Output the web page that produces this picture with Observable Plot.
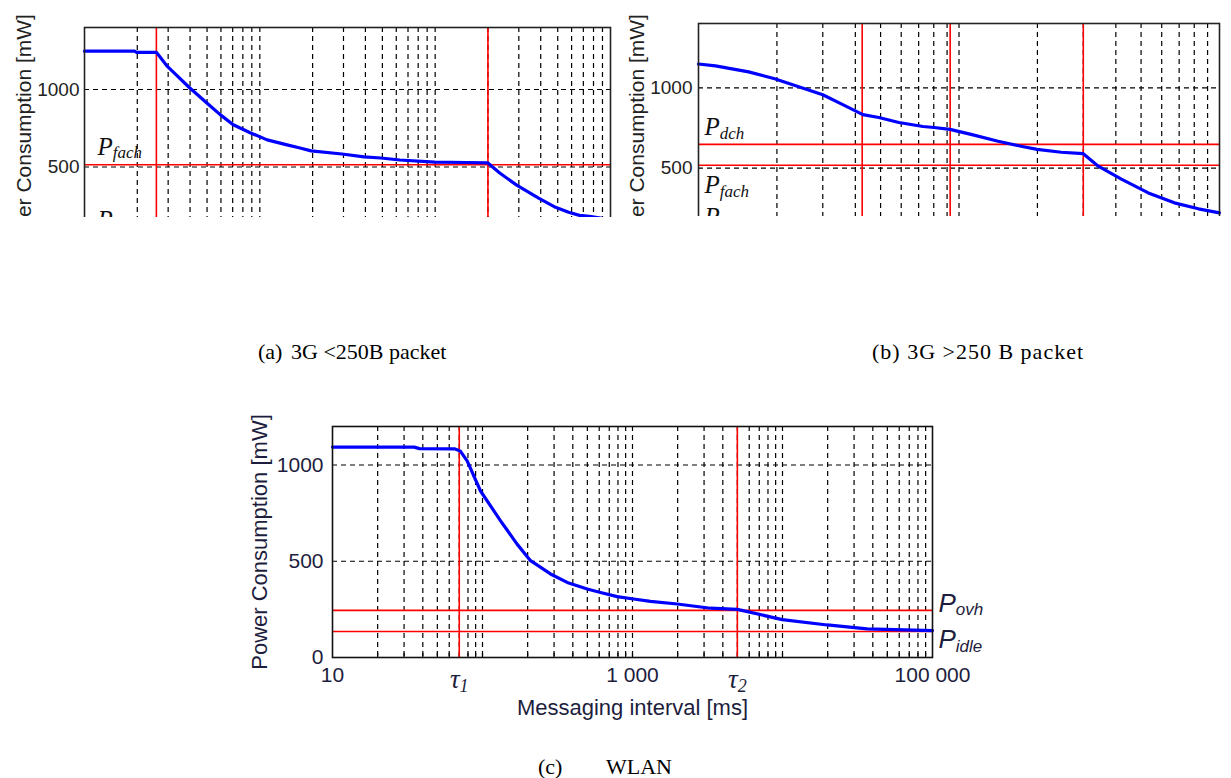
<!DOCTYPE html>
<html><head><meta charset="utf-8">
<script src="https://cdn.jsdelivr.net/npm/d3@7"></script>
<script src="https://cdn.jsdelivr.net/npm/@observablehq/plot@0.6"></script>
<style>
body{margin:0;background:#fff;}
#page{position:relative;width:1231px;height:778px;background:#fff;overflow:hidden;}
.panel{position:absolute;overflow:hidden;}
.cap{position:absolute;font-family:"Liberation Serif","Times New Roman",serif;font-size:22px;line-height:22px;color:#000;white-space:pre;}
</style></head><body>
<div id="page">
 <div id="pa" class="panel" style="left:0;top:0;width:615px;height:217px"></div>
 <div id="pb" class="panel" style="left:615px;top:0;width:616px;height:216px"></div>
 <div id="pc" class="panel" style="left:230px;top:390px;width:800px;height:345px"></div>
 <div class="cap" style="left:258px;top:341px">(a)</div>
 <div class="cap" style="left:291px;top:341px">3G &lt;250B packet</div>
 <div class="cap" style="left:872px;top:341px;letter-spacing:1px">(b) 3G &gt;250 B packet</div>
 <div class="cap" style="left:538px;top:756px">(c)</div>
 <div class="cap" style="left:606px;top:756px">WLAN</div>
</div>
<script>
// ---------- data ----------
// (a) 3G <250B packet
const aX = [100, 193, 198, 257, 297, 396, 495, 594, 705, 881, 1101, 1430, 1695, 1960, 2940, 3925, 4900, 6290, 9950, 15140, 20000, 23340, 29170, 38900, 48600, 57700, 66600, 75900, 100000];
const aY = [1247, 1247, 1240, 1240, 1149, 1013, 916, 838, 773, 721, 675, 643, 623, 604, 584, 565, 558, 545, 532, 529, 526, 461, 383, 299, 240, 208, 188, 182, 160];
const aTau = [257, 20000];
const aP = [515];
const aPLabels = ["P|fach", "P|idle"];

// (b) 3G >250 B packet
const bX = [1000, 1162, 1557, 1960, 2425, 2999, 3580, 4274, 4923, 5878, 7273, 8015, 9232, 11120, 14130, 17310, 19950, 24680, 30000, 34250, 42000, 53300, 67100, 83000, 100000];
const bY = [1148, 1136, 1099, 1056, 1006, 957, 895, 833, 815, 784, 759, 753, 741, 710, 667, 636, 617, 599, 590, 512, 432, 346, 284, 247, 222];
const bTau = [4250, 9250, 30000];
const bP = [648, 518];
const bPLabels = ["P|dch", "P|fach", "P|idle"];

// (c) WLAN
const cX = [10, 35, 38, 65, 71, 79, 97, 132, 170, 209, 284, 367, 499, 612, 791, 1016, 1318, 1986, 3311, 5000, 9950, 19860, 36650, 100000];
const cY = [1093, 1093, 1085, 1084, 1073, 1021, 865, 710, 589, 503, 434, 390, 356, 338, 316, 304, 292, 278, 256, 250, 197, 169, 149, 140];
const cTau = [70, 5000];
const cTauLabels = ["τ|1", "τ|2"];
const cP = [245, 135];
const cPLabels = ["P|ovh", "P|idle"];

const yTicks = [0, 500, 1000];
const cXTicks = [10, 1000, 100000];
const cXTickLabels = ["10", "1 000", "100 000"];
const yLabel = "Power Consumption [mW]";
const xLabel = "Messaging interval [ms]";

// ---------- helpers ----------
const sans = "'Liberation Sans', Arial, sans-serif";
const serif = "'Liberation Serif', 'Times New Roman', serif";
function logGrid(lo, hi) {
  const out = [];
  for (let e = Math.round(Math.log10(lo)); Math.pow(10, e) < hi; e++)
    for (let k = 1; k < 10; k++) { const v = k * Math.pow(10, e); if (v > lo && v < hi) out.push(v); }
  return out;
}
const dash = {stroke: "#000", strokeDasharray: "5,4", strokeWidth: 1.2};
const red = {stroke: "#ff0000", strokeWidth: 1.6};
const blue = {stroke: "#0000ff", strokeWidth: 3.2};
function subscripts(svg) {
  d3.select(svg).selectAll("text").each(function() {
    const s = this.textContent;
    if (!s.includes("|")) return;
    const [a, b] = s.split("|");
    const g = this.parentNode;
    const fs = +(g.getAttribute("font-size") || this.getAttribute("font-size") || 24);
    const t = d3.select(this);
    t.text("");
    t.append("tspan").text(a);
    t.append("tspan").attr("font-size", Math.round(fs * 0.66)).attr("dy", "0.22em").text(b);
  });
}

// ---------- (a) ----------
const plotA = Plot.plot({
  width: 615, height: 260,
  marginLeft: 84, marginRight: 5, marginTop: 27, marginBottom: 16,
  x: {type: "log", domain: [100, 100000], axis: null},
  y: {domain: [0, 1400], axis: null},
  style: {fontFamily: sans, fontSize: "19px", color: "#222", background: "white"},
  marks: [
    Plot.ruleX(logGrid(100, 100000), dash),
    Plot.ruleY([500, 1000], dash),
    Plot.ruleY(aP, red),
    Plot.ruleX(aTau, red),
    Plot.line(aX.map((x, i) => ({x, y: aY[i]})), {x: "x", y: "y", ...blue}),
    Plot.frame({stroke: "#222", strokeWidth: 1.6}),
    Plot.axisY({ticks: [500, 1000], tickSize: 0, tickPadding: 5, label: null, tickFormat: d => String(d)}),
    Plot.text([yLabel], {text: d => d, frameAnchor: "left", textAnchor: "middle", rotate: -90, dx: -60, fontSize: 21, lineAnchor: "middle"}),
    Plot.text([aPLabels[0]], {text: d => d, y: aP[0], frameAnchor: "left", dx: 13, dy: -18, textAnchor: "start", lineAnchor: "middle", fontFamily: serif, fontStyle: "italic", fontSize: 25, fill: "#111"}),
    Plot.text([aPLabels[1]], {text: d => d, y: aP[0], frameAnchor: "left", dx: 13, dy: 55, textAnchor: "start", lineAnchor: "middle", fontFamily: serif, fontStyle: "italic", fontSize: 25, fill: "#111"})
  ]
});
subscripts(plotA);
document.getElementById("pa").append(plotA);

// ---------- (b) ----------
const plotB = Plot.plot({
  width: 616, height: 270,
  marginLeft: 83, marginRight: 12, marginTop: 23, marginBottom: 22,
  x: {type: "log", domain: [1000, 100000], axis: null},
  y: {domain: [0, 1400], axis: null},
  style: {fontFamily: sans, fontSize: "19px", color: "#222", background: "white"},
  marks: [
    Plot.ruleX(logGrid(1000, 100000), dash),
    Plot.ruleY([500, 1000], dash),
    Plot.ruleY(bP, red),
    Plot.ruleX(bTau, red),
    Plot.line(bX.map((x, i) => ({x, y: bY[i]})), {x: "x", y: "y", ...blue}),
    Plot.frame({stroke: "#222", strokeWidth: 1.6}),
    Plot.axisY({ticks: [500, 1000], tickSize: 0, tickPadding: 6, label: null, tickFormat: d => String(d)}),
    Plot.text([yLabel], {text: d => d, frameAnchor: "left", textAnchor: "middle", rotate: -90, dx: -61, fontSize: 21, lineAnchor: "middle"}),
    Plot.text([bPLabels[0]], {text: d => d, y: bP[0], frameAnchor: "left", dx: 6, dy: -17, textAnchor: "start", lineAnchor: "middle", fontFamily: serif, fontStyle: "italic", fontSize: 25, fill: "#111"}),
    Plot.text([bPLabels[1]], {text: d => d, y: bP[1], frameAnchor: "left", dx: 6, dy: 20, textAnchor: "start", lineAnchor: "middle", fontFamily: serif, fontStyle: "italic", fontSize: 25, fill: "#111"}),
    Plot.text([bPLabels[2]], {text: d => d, y: bP[1], frameAnchor: "left", dx: 6, dy: 52, textAnchor: "start", lineAnchor: "middle", fontFamily: serif, fontStyle: "italic", fontSize: 25, fill: "#111"})
  ]
});
subscripts(plotB);
document.getElementById("pb").append(plotB);

// ---------- (c) ----------
const plotC = Plot.plot({
  width: 800, height: 345,
  marginLeft: 102, marginRight: 98, marginTop: 36, marginBottom: 78,
  x: {type: "log", domain: [10, 100000], axis: null},
  y: {domain: [0, 1200], axis: null},
  style: {fontFamily: sans, fontSize: "21px", color: "#1d1d3d", background: "white"},
  marks: [
    Plot.ruleX(logGrid(10, 100000), dash),
    Plot.ruleY([500, 1000], dash),
    Plot.ruleX(logGrid(10, 100000), {y1: 0, y2: 22, stroke: "#000", strokeWidth: 1.2}),
    Plot.ruleY(cP, red),
    Plot.ruleX(cTau, red),
    Plot.line(cX.map((x, i) => ({x, y: cY[i]})), {x: "x", y: "y", ...blue}),
    Plot.frame({stroke: "#111", strokeWidth: 1.6}),
    Plot.axisY({ticks: yTicks, tickSize: 0, tickPadding: 9, label: null, tickFormat: d => String(d)}),
    Plot.axisX({ticks: cXTicks, tickSize: 0, tickPadding: 10, label: null, tickFormat: d => cXTickLabels[cXTicks.indexOf(d)]}),
    Plot.text(cTauLabels, {text: d => d, x: cTau, frameAnchor: "bottom", dy: 22, lineAnchor: "middle", fontFamily: serif, fontStyle: "italic", fontSize: 27}),
    Plot.text([xLabel], {text: d => d, frameAnchor: "bottom", dy: 50, lineAnchor: "middle", fontSize: 22}),
    Plot.text([yLabel], {text: d => d, frameAnchor: "left", textAnchor: "middle", rotate: -90, dx: -73, fontSize: 22, lineAnchor: "middle"}),
    Plot.text([cPLabels[0]], {text: d => d, y: cP[0], frameAnchor: "right", dx: 6, dy: -7, textAnchor: "start", lineAnchor: "middle", fontStyle: "italic", fontSize: 26}),
    Plot.text([cPLabels[1]], {text: d => d, y: cP[1], frameAnchor: "right", dx: 6, dy: 8, textAnchor: "start", lineAnchor: "middle", fontStyle: "italic", fontSize: 26})
  ]
});
subscripts(plotC);
document.getElementById("pc").append(plotC);
</script>
</body></html>
